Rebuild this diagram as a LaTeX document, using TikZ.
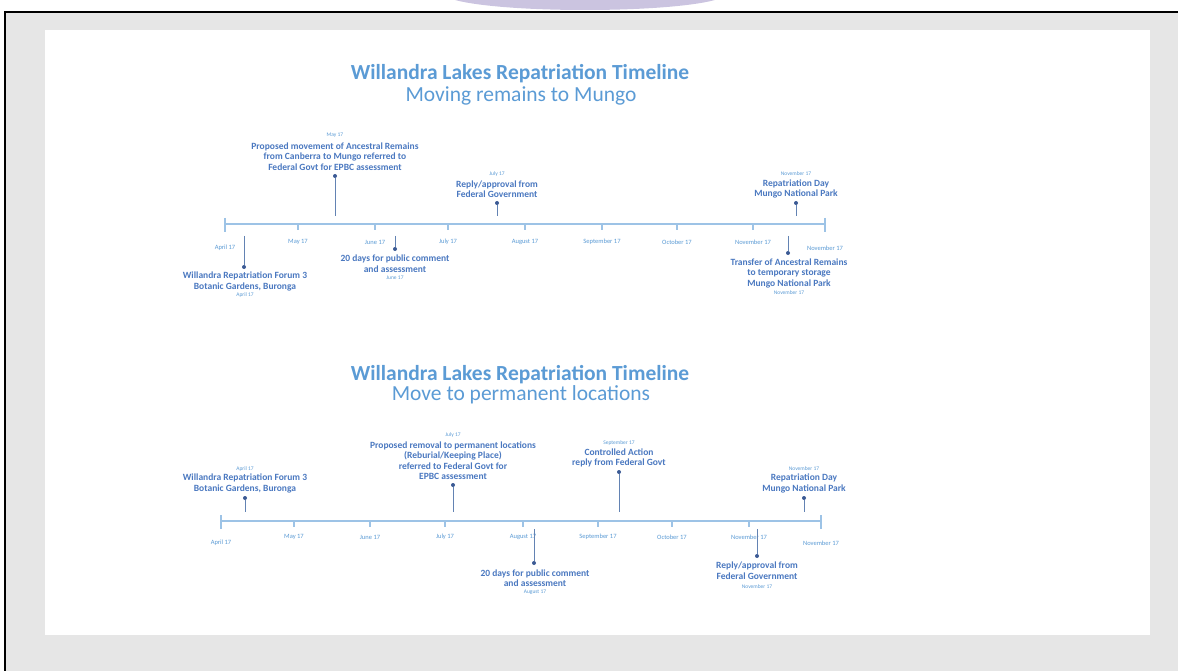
\documentclass[tikz,border=0pt]{standalone}
\usepackage{fontspec}
\setmainfont{Carlito}
\definecolor{titleblue}{HTML}{5B9BD5}
\definecolor{textblue}{HTML}{4A78C0}
\definecolor{axisblue}{HTML}{9DC3E6}
\definecolor{stemblue}{HTML}{6383B3}
\definecolor{dotblue}{HTML}{3B5A94}
\definecolor{panelgray}{HTML}{E6E6E6}
\definecolor{lavender}{HTML}{CBC4E0}
\tikzset{
  title/.style={text=titleblue, font=\fontsize{21.5}{23}\selectfont\bfseries, inner sep=0pt},
  subtitle/.style={text=titleblue, font=\fontsize{21.5}{23}\selectfont, inner sep=0pt},
  month/.style={text=titleblue, font=\fontsize{6.5}{7}\selectfont, inner sep=0pt},
  event/.style={text=textblue, font=\fontsize{9.5}{10.5}\selectfont\bfseries, align=center, inner sep=0pt},
  evdate/.style={text=titleblue, font=\fontsize{5.5}{6}\selectfont, inner sep=0pt},
  dot/.style={circle, fill=dotblue, minimum size=4pt, inner sep=0pt},
  stem/.style={stemblue, line width=1pt},
  axisline/.style={axisblue, line width=1.2pt},
}
\begin{document}
\begin{tikzpicture}[x=1pt, y=-1pt]
	\useasboundingbox (0,0) rectangle (1178,671);
	% screen frame
	\begin{scope}
		\clip (0,0) rectangle (1178,12);
		\fill[lavender] (585,-6) ellipse [x radius=140, y radius=16];
	\end{scope}
	\fill[panelgray] (5,12) rectangle (1178,671);
	\fill[white] (45,30) rectangle (1150,635);
	\draw[black, line width=2pt] (5,671) -- (5,12) -- (1178,12);

	% first timeline
	\node[title] (t1) at (520,74) {Willandra Lakes Repatriation Timeline};
	\node[subtitle] (s1) at (521,96) {Moving remains to Mungo};

	\draw[axisline] (225,224) -- (825,224);
	\draw[axisline] (225,218) -- (225,232) (825,218) -- (825,232);
	\draw[axisline] (298,224) -- (298,230) (375,224) -- (375,230) (448,224) -- (448,230)
		(525,224) -- (525,230) (602,224) -- (602,230) (677,224) -- (677,230) (753,224) -- (753,230);

	\node[month] (m1a) at (225,248) {April 17};
	\node[month] (m1b) at (298,242) {May 17};
	\node[month] (m1c) at (375,242) {June 17};
	\node[month] (m1d) at (448,242) {July 17};
	\node[month] (m1e) at (525,242) {August 17};
	\node[month] (m1f) at (602,242) {September 17};
	\node[month] (m1g) at (677,242) {October 17};
	\node[month] (m1h) at (753,242) {November 17};
	\node[month] (m1i) at (825,248) {November 17};

	\node[evdate] (proposeddate) at (335,135) {May 17};
	\node[event] (proposed) at (335,156.5) {Proposed movement of Ancestral Remains\\from Canberra to Mungo referred to\\Federal Govt for EPBC assessment};
	\node[dot] (proposeddot) at (335,176) {};
	\coordinate (proposedend) at (335,216);
	\draw[stem] (proposeddot) -- (proposedend);

	\node[evdate] (replydate) at (497,174) {July 17};
	\node[event] (reply) at (497,189) {Reply/approval from\\Federal Government};
	\node[dot] (replydot) at (497,203) {};
	\coordinate (replyend) at (497,216);
	\draw[stem] (replydot) -- (replyend);

	\node[evdate] (repdaydate) at (796,174) {November 17};
	\node[event] (repday) at (796,189) {Repatriation Day\\Mungo National Park};
	\node[dot] (repdaydot) at (796,203) {};
	\coordinate (repdayend) at (796,216);
	\draw[stem] (repdaydot) -- (repdayend);

	\coordinate (forumstart) at (244,236);
	\node[dot] (forumdot) at (244,267) {};
	\node[event] (forum) at (245,281.5) {Willandra Repatriation Forum 3\\Botanic Gardens, Buronga};
	\node[evdate] (forumdate) at (245,295) {April 17};
	\draw[stem] (forumstart) -- (forumdot);

	\coordinate (commentstart) at (395,236);
	\node[dot] (commentdot) at (395,249) {};
	\node[event] (comment) at (395,263.5) {20 days for public comment\\and assessment};
	\node[evdate] (commentdate) at (395,278) {June 17};
	\draw[stem] (commentstart) -- (commentdot);

	\coordinate (transferstart) at (788,236);
	\node[dot] (transferdot) at (788,253) {};
	\node[event] (transfer) at (789,273) {Transfer of Ancestral Remains\\to temporary storage\\Mungo National Park};
	\node[evdate] (transferdate) at (789,293) {November 17};
	\draw[stem] (transferstart) -- (transferdot);

	% second timeline
	\node[title] (t2) at (520,375) {Willandra Lakes Repatriation Timeline};
	\node[subtitle] (s2) at (521,395) {Move to permanent locations};

	\draw[axisline] (221,521) -- (821,521);
	\draw[axisline] (221,515) -- (221,529) (821,515) -- (821,529);
	\draw[axisline] (294,521) -- (294,527) (370,521) -- (370,527) (445,521) -- (445,527)
		(523,521) -- (523,527) (598,521) -- (598,527) (672,521) -- (672,527) (749,521) -- (749,527);

	\node[month] (m2a) at (221,543) {April 17};
	\node[month] (m2b) at (294,537) {May 17};
	\node[month] (m2c) at (370,537) {June 17};
	\node[month] (m2d) at (445,537) {July 17};
	\node[month] (m2e) at (523,537) {August 17};
	\node[month] (m2f) at (598,537) {September 17};
	\node[month] (m2g) at (672,537) {October 17};
	\node[month] (m2h) at (749,537) {November 17};
	\node[month] (m2i) at (821,543) {November 17};

	\node[evdate] (forumbdate) at (245,469) {April 17};
	\node[event] (forumb) at (245,483.5) {Willandra Repatriation Forum 3\\Botanic Gardens, Buronga};
	\node[dot] (forumbdot) at (245,498) {};
	\coordinate (forumbend) at (245,512);
	\draw[stem] (forumbdot) -- (forumbend);

	\node[evdate] (removaldate) at (453,435) {July 17};
	\node[event] (removal) at (453,460.5) {Proposed removal to permanent locations\\(Reburial/Keeping Place)\\referred to Federal Govt for\\EPBC assessment};
	\node[dot] (removaldot) at (453,485) {};
	\coordinate (removalend) at (453,512);
	\draw[stem] (removaldot) -- (removalend);

	\node[evdate] (controlleddate) at (619,443) {September 17};
	\node[event] (controlled) at (619,458) {Controlled Action\\reply from Federal Govt};
	\node[dot] (controlleddot) at (619,472) {};
	\coordinate (controlledend) at (619,512);
	\draw[stem] (controlleddot) -- (controlledend);

	\node[evdate] (repdaybdate) at (804,469) {November 17};
	\node[event] (repdayb) at (804,483.5) {Repatriation Day\\Mungo National Park};
	\node[dot] (repdaybdot) at (804,498) {};
	\coordinate (repdaybend) at (804,512);
	\draw[stem] (repdaybdot) -- (repdaybend);

	\coordinate (commentbstart) at (534,529);
	\node[dot] (commentbdot) at (534,563) {};
	\node[event] (commentb) at (535,578) {20 days for public comment\\and assessment};
	\node[evdate] (commentbdate) at (535,592) {August 17};
	\draw[stem] (commentbstart) -- (commentbdot);

	\coordinate (replybstart) at (757,529);
	\node[dot] (replybdot) at (757,556) {};
	\node[event] (replyb) at (757,570.5) {Reply/approval from\\Federal Government};
	\node[evdate] (replybdate) at (757,587) {November 17};
	\draw[stem] (replybstart) -- (replybdot);
\end{tikzpicture}
\end{document}
